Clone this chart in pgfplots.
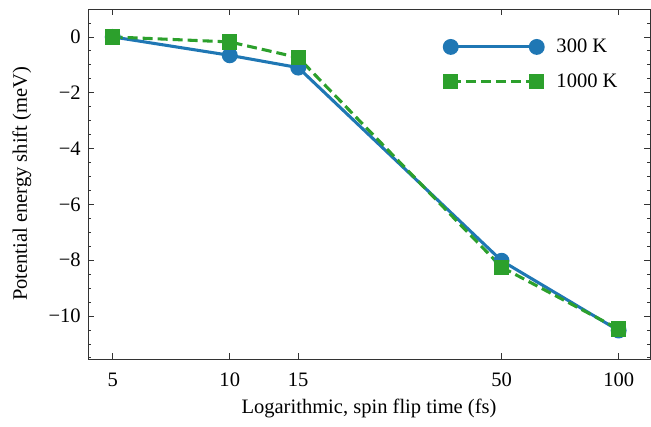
\documentclass[border=0pt]{standalone}
\usepackage{fontspec}
\setmainfont{Liberation Serif}
\usepackage{pgfplots}
\pgfplotsset{compat=1.18}
\definecolor{mblue}{HTML}{1F77B4}
\definecolor{mgreen}{HTML}{2CA02C}
\newcommand{\chartfont}{\fontsize{15.4pt}{18pt}\selectfont}
\begin{document}
\begin{tikzpicture}
\begin{axis}[
  scale only axis,
  width=421.5pt, height=262.5pt,
  xmode=log,
  xmin=4.32, xmax=120.4,
  ymin=-11.54, ymax=1,
  xtick={5,10,15,50,100},
  xticklabels={5,10,15,50,100},
  minor xtick={},
  ytick={-10,-8,-6,-4,-2,0},
  yticklabels={−10,−8,−6,−4,−2,0},
  minor ytick={-11.5,-11,...,1},
  tick align=inside,
  tick pos=both,
  major tick length=4.5pt,
  minor tick length=2.5pt,
  every tick/.style={black!80, line width=0.6pt},
  axis line style={black!80, line width=0.7pt},
  tick label style={font=\chartfont},
  xticklabel style={yshift=-7pt},
  yticklabel style={xshift=-2pt},
  label style={font=\chartfont},
  xlabel={Logarithmic, spin flip time (fs)},
  ylabel={Potential energy shift (meV)},
  xlabel style={yshift=-2pt},
  ylabel style={yshift=6pt},
  legend cell align=left,
  legend style={draw=none, fill=none, at={(0.6265,0.93)}, anchor=north west,
    font=\chartfont, row sep=10pt,
    /tikz/every odd column/.append style={column sep=8pt}},
  legend image code/.code={\draw[#1] plot coordinates {(0pt,0pt) (64.5pt,0pt)};},
]
\addplot[mblue, line width=2.3pt, mark=*, mark size=4.8pt, mark options={solid}]
  coordinates {(5,0) (10,-0.66) (15,-1.1) (50,-8.02) (100,-10.52)};
\addlegendentry{300 K}
\addplot[mgreen, line width=2.3pt, dash pattern=on 7.5pt off 3.75pt, mark=square*, mark size=4.6pt, mark options={solid}]
  coordinates {(5,0) (10,-0.18) (15,-0.74) (50,-8.25) (100,-10.47)};
\addlegendentry{1000 K}
\end{axis}
\pgfresetboundingbox
\path[use as bounding box] ([shift={(-66pt,-50.25pt)}]current axis.south west) rectangle ([shift={(0.75pt,6.75pt)}]current axis.north east);
\end{tikzpicture}
\end{document}
